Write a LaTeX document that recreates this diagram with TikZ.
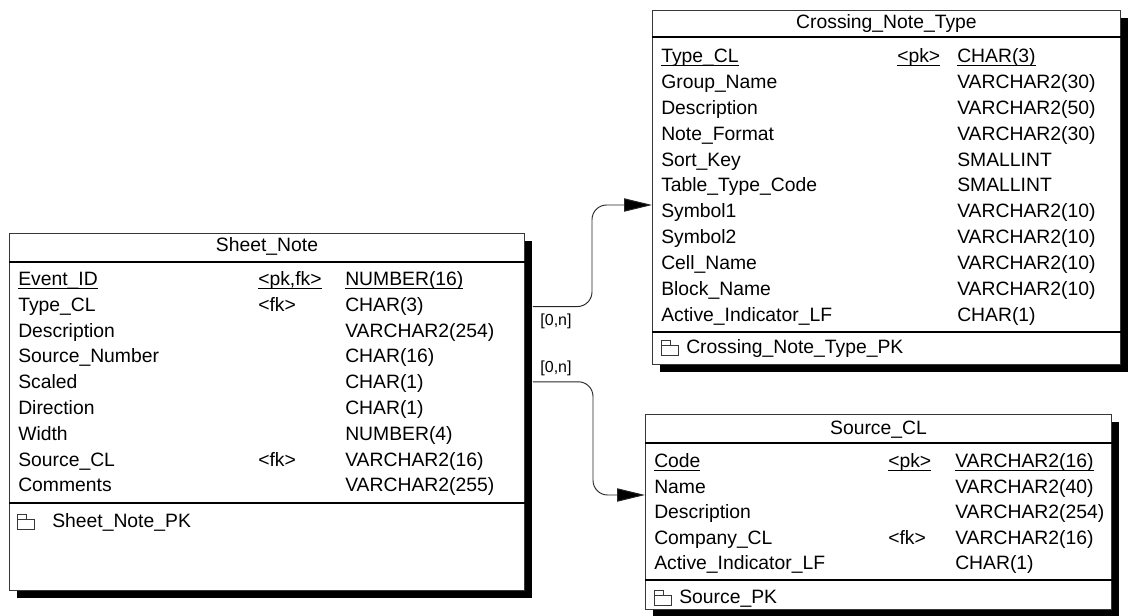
\documentclass[tikz,border=0pt]{standalone}
\usepackage{fontspec}
\setmainfont{Liberation Sans}
\usetikzlibrary{arrows.meta,positioning,shadows}
\definecolor{frameLn}{RGB}{55,55,55}
\newcommand\pkline[1]{\setbox0\hbox{#1}\rlap{\rule[-3pt]{\wd0}{0.8pt}}\box0}
\tikzset{
  tbl/.style   ={rectangle, draw=frameLn, line width=0.7pt, fill=white,
                 anchor=north west, inner sep=0pt,
                 drop shadow={fill=black, opacity=1, shadow xshift=6pt, shadow yshift=-6pt}},
  ttl/.style   ={font=\fontsize{14.5}{17}\selectfont, anchor=base, inner sep=0pt},
  fld/.style   ={font=\fontsize{14.5}{17}\selectfont, anchor=base west, inner sep=0pt},
  sep/.style   ={line width=0.9pt, draw=black},
  fl/.style    ={-{Triangle[length=21pt,width=10pt,fill=black]}, line width=0.7pt,
                 draw=black!85, rounded corners=11pt},
  card/.style  ={font=\fontsize{12}{14}\selectfont, inner sep=0pt},
  pkicon/.pic  ={\draw[line width=0.6pt, draw=frameLn] (0,-2) rectangle (17,8)
                 (0,-2) -- (0,-7) -- (9,-7) -- (9,-2);},
}
\begin{document}
\begin{tikzpicture}[x=0.75pt, y=-0.75pt]
\useasboundingbox (0,0) rectangle (1132,616);

% tables
\node[tbl, minimum width=386.25pt, minimum height=267.75pt] (sheet) at (9,233) {};
\node[tbl, minimum width=351pt, minimum height=265.5pt] (crossing) at (652,10) {};
\node[tbl, minimum width=349.5pt, minimum height=146.25pt] (source) at (645,414) {};

% Sheet_Note
\node[ttl] (sn-ttl) at (sheet.north |- 0,252) {Sheet\_Note};
\draw[sep] (sheet.west |- 0,262) -- (sheet.east |- 0,262);
\foreach \n/\k/\t [count=\i] in {
    \pkline{Event\_ID}/\pkline{<pk,fk>}/\pkline{NUMBER(16)},
    Type\_CL/<fk>/CHAR(3),
    Description//VARCHAR2(254),
    Source\_Number//CHAR(16),
    Scaled//CHAR(1),
    Direction//CHAR(1),
    Width//NUMBER(4),
    Source\_CL/<fk>/VARCHAR2(16),
    Comments//VARCHAR2(255)}{
  \node[fld] (sn-\i) at (18,{259.7+25.8*\i}) {\n};
  \node[fld] (sn-k\i) at (258,{259.7+25.8*\i}) {\k};
  \node[fld] (sn-t\i) at (345,{259.7+25.8*\i}) {\t};
}
\draw[sep] (sheet.west |- 0,503) -- (sheet.east |- 0,503);
\pic at (17,521) {pkicon};
\node[fld] (sn-pk) at (52,527.5) {Sheet\_Note\_PK};

% Crossing_Note_Type
\node[ttl] (cn-ttl) at (crossing.north |- 0,29) {Crossing\_Note\_Type};
\draw[sep] (crossing.west |- 0,37) -- (crossing.east |- 0,37);
\foreach \n/\k/\t [count=\i] in {
    \pkline{Type\_CL}/\pkline{<pk>}/\pkline{CHAR(3)},
    Group\_Name//VARCHAR2(30),
    Description//VARCHAR2(50),
    Note\_Format//VARCHAR2(30),
    Sort\_Key//SMALLINT,
    Table\_Type\_Code//SMALLINT,
    Symbol1//VARCHAR2(10),
    Symbol2//VARCHAR2(10),
    Cell\_Name//VARCHAR2(10),
    Block\_Name//VARCHAR2(10),
    Active\_Indicator\_LF//CHAR(1)}{
  \node[fld] (cn-\i) at (661,{36.6+25.9*\i}) {\n};
  \node[fld] (cn-k\i) at (897,{36.6+25.9*\i}) {\k};
  \node[fld] (cn-t\i) at (957,{36.6+25.9*\i}) {\t};
}
\draw[sep] (crossing.west |- 0,332) -- (crossing.east |- 0,332);
\pic at (661,347) {pkicon};
\node[fld] (cn-pk) at (686,353.5) {Crossing\_Note\_Type\_PK};

% Source_CL
\node[ttl] (sc-ttl) at (source.north |- 0,435) {Source\_CL};
\draw[sep] (source.west |- 0,443) -- (source.east |- 0,443);
\foreach \n/\k/\t [count=\i] in {
    \pkline{Code}/\pkline{<pk>}/\pkline{VARCHAR2(16)},
    Name//VARCHAR2(40),
    Description//VARCHAR2(254),
    Company\_CL/<fk>/VARCHAR2(16),
    Active\_Indicator\_LF//CHAR(1)}{
  \node[fld] (sc-\i) at (654,{441.9+25.6*\i}) {\n};
  \node[fld] (sc-k\i) at (888,{441.9+25.6*\i}) {\k};
  \node[fld] (sc-t\i) at (955,{441.9+25.6*\i}) {\t};
}
\draw[sep] (source.west |- 0,580) -- (source.east |- 0,580);
\pic at (654,597) {pkicon};
\node[fld] (sc-pk) at (679,603.5) {Source\_PK};

% references
\draw[fl] ([xshift=6pt]sheet.east |- sn-2) -| (592,205) -- (crossing.west |- 0,205);
\draw[fl] ([xshift=6pt]sheet.east |- sn-5) -| (593,495) -- (source.west |- 0,495);
\node[card] (m1) at (556,321) {[0,n]};
\node[card] (m2) at (556,368) {[0,n]};
\end{tikzpicture}
\end{document}
